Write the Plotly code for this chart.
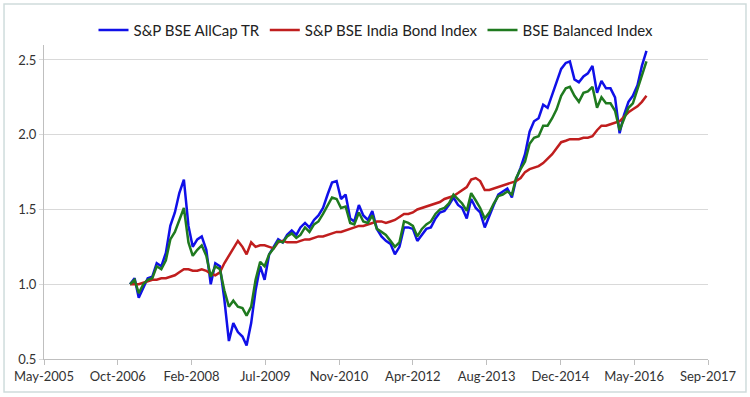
import pandas as pd
import plotly.graph_objects as go

# Monthly observation dates (Jan-2007 .. Aug-2016)
dates = pd.date_range("2007-01-01", "2016-08-01", freq="MS")

allcap = [
    1.00, 1.04, 0.91, 0.98, 1.04, 1.05, 1.14, 1.12, 1.21, 1.39, 1.48, 1.61,  # 2007
    1.70, 1.39, 1.25, 1.30, 1.32, 1.23, 1.00, 1.14, 1.12, 0.90, 0.62, 0.74,  # 2008
    0.68, 0.65, 0.59, 0.74, 0.96, 1.12, 1.03, 1.20, 1.25, 1.30, 1.28, 1.33,  # 2009
    1.36, 1.33, 1.38, 1.41, 1.38, 1.43, 1.46, 1.51, 1.60, 1.68, 1.69, 1.57,  # 2010
    1.60, 1.44, 1.42, 1.53, 1.46, 1.43, 1.49, 1.37, 1.32, 1.29, 1.27, 1.20,  # 2011
    1.25, 1.38, 1.38, 1.37, 1.29, 1.33, 1.37, 1.38, 1.44, 1.48, 1.49, 1.53,  # 2012
    1.58, 1.53, 1.51, 1.44, 1.57, 1.51, 1.48, 1.38, 1.46, 1.53, 1.60, 1.62,  # 2013
    1.64, 1.58, 1.70, 1.78, 1.87, 2.02, 2.09, 2.11, 2.20, 2.18, 2.27, 2.35,  # 2014
    2.44, 2.48, 2.49, 2.37, 2.35, 2.39, 2.41, 2.46, 2.28, 2.36, 2.31, 2.31,  # 2015
    2.25, 2.01, 2.13, 2.22, 2.26, 2.33, 2.46, 2.56,                          # 2016
]

bond = [
    1.00, 1.00, 1.00, 1.01, 1.02, 1.03, 1.03, 1.04, 1.04, 1.05, 1.06, 1.08,  # 2007
    1.10, 1.10, 1.09, 1.09, 1.10, 1.09, 1.07, 1.06, 1.08, 1.14, 1.19, 1.24,  # 2008
    1.29, 1.25, 1.20, 1.28, 1.25, 1.26, 1.26, 1.25, 1.24, 1.28, 1.29, 1.28,  # 2009
    1.28, 1.28, 1.29, 1.30, 1.30, 1.31, 1.32, 1.32, 1.33, 1.34, 1.35, 1.35,  # 2010
    1.36, 1.37, 1.38, 1.39, 1.39, 1.40, 1.41, 1.42, 1.42, 1.41, 1.42, 1.43,  # 2011
    1.45, 1.47, 1.47, 1.48, 1.50, 1.51, 1.52, 1.53, 1.54, 1.55, 1.57, 1.58,  # 2012
    1.59, 1.61, 1.63, 1.65, 1.70, 1.71, 1.69, 1.63, 1.63, 1.64, 1.65, 1.66,  # 2013
    1.67, 1.68, 1.69, 1.71, 1.75, 1.77, 1.78, 1.79, 1.81, 1.84, 1.87, 1.91,  # 2014
    1.95, 1.96, 1.97, 1.97, 1.97, 1.98, 1.98, 1.99, 2.03, 2.06, 2.06, 2.07,  # 2015
    2.08, 2.09, 2.12, 2.15, 2.17, 2.19, 2.22, 2.26,                          # 2016
]

balanced = [
    1.00, 1.03, 0.94, 1.00, 1.03, 1.04, 1.12, 1.10, 1.16, 1.30, 1.35, 1.43,  # 2007
    1.51, 1.28, 1.19, 1.23, 1.26, 1.19, 1.05, 1.12, 1.10, 0.96, 0.85, 0.89,  # 2008
    0.85, 0.84, 0.79, 0.85, 1.03, 1.15, 1.12, 1.20, 1.24, 1.29, 1.28, 1.32,  # 2009
    1.34, 1.31, 1.33, 1.38, 1.35, 1.40, 1.42, 1.47, 1.53, 1.58, 1.57, 1.51,  # 2010
    1.52, 1.41, 1.40, 1.48, 1.42, 1.41, 1.46, 1.37, 1.35, 1.33, 1.29, 1.25,  # 2011
    1.28, 1.42, 1.41, 1.39, 1.32, 1.37, 1.40, 1.42, 1.47, 1.50, 1.51, 1.54,  # 2012
    1.60, 1.57, 1.54, 1.49, 1.61, 1.56, 1.51, 1.44, 1.48, 1.54, 1.59, 1.60,  # 2013
    1.62, 1.60, 1.71, 1.77, 1.82, 1.94, 1.98, 1.99, 2.06, 2.06, 2.11, 2.17,  # 2014
    2.26, 2.31, 2.32, 2.26, 2.22, 2.28, 2.29, 2.32, 2.18, 2.25, 2.21, 2.21,  # 2015
    2.16, 2.03, 2.10, 2.18, 2.21, 2.30, 2.39, 2.49,                          # 2016
]

series_names = ["S&P BSE AllCap TR", "S&P BSE India Bond Index", "BSE Balanced Index"]
series_colors = ["#1010E8", "#C01E1E", "#1F7A1F"]

tick_dates = ["2005-05-28", "2006-10-10", "2008-02-22", "2009-07-06", "2010-11-18",
              "2012-04-01", "2013-08-14", "2014-12-27", "2016-05-10", "2017-09-22"]
tick_labels = ["May-2005", "Oct-2006", "Feb-2008", "Jul-2009", "Nov-2010",
               "Apr-2012", "Aug-2013", "Dec-2014", "May-2016", "Sep-2017"]
y_ticks = [0.5, 1.0, 1.5, 2.0, 2.5]

FONT = "Lato, 'Open Sans', sans-serif"

fig = go.Figure()
for name, vals, col in zip(series_names, [allcap, bond, balanced], series_colors):
    fig.add_trace(go.Scatter(x=dates, y=vals, mode="lines", name=name,
                             line=dict(color=col, width=2.5)))

fig.update_layout(
    width=750, height=397,
    margin=dict(l=44, r=42, t=45, b=38, autoexpand=False),
    paper_bgcolor="white", plot_bgcolor="white",
    font=dict(family=FONT, size=13, color="#333333"),
    showlegend=True,
    legend=dict(orientation="h", x=0.5, xanchor="center",
                yref="container", y=0.924, yanchor="middle",
                font=dict(family=FONT, size=15, color="#222222"),
                bgcolor="rgba(0,0,0,0)", itemwidth=30, traceorder="normal"),
    xaxis=dict(type="date", range=[tick_dates[0], tick_dates[-1]],
               tickmode="array", tickvals=tick_dates, ticktext=tick_labels,
               showgrid=False, showline=True, linecolor="#BFBFBF", linewidth=1,
               ticks="outside", ticklen=5, tickcolor="#BFBFBF", automargin=False,
               tickfont=dict(size=13, color="#333333"), zeroline=False),
    yaxis=dict(range=[0.5, 2.6], tickmode="array", tickvals=y_ticks,
               tickformat=".1f", showgrid=True, gridcolor="#D9D9D9", gridwidth=1,
               showline=True, linecolor="#BFBFBF", linewidth=1, automargin=False,
               ticks="outside", ticklen=4, tickcolor="#D9D9D9",
               tickfont=dict(size=13, color="#333333"), zeroline=False),
    shapes=[dict(type="rect", xref="paper", yref="paper",
                 x0=-0.0602, x1=1.0572, y0=-0.105, y1=1.1306,
                 line=dict(color="#CFDCDC", width=1.5), fillcolor="rgba(0,0,0,0)",
                 layer="below")],
)

fig.write_html(
    "out.html",
    config={"displayModeBar": False},
    post_script="document.body.style.margin='0';document.body.style.overflow='hidden';",
)
